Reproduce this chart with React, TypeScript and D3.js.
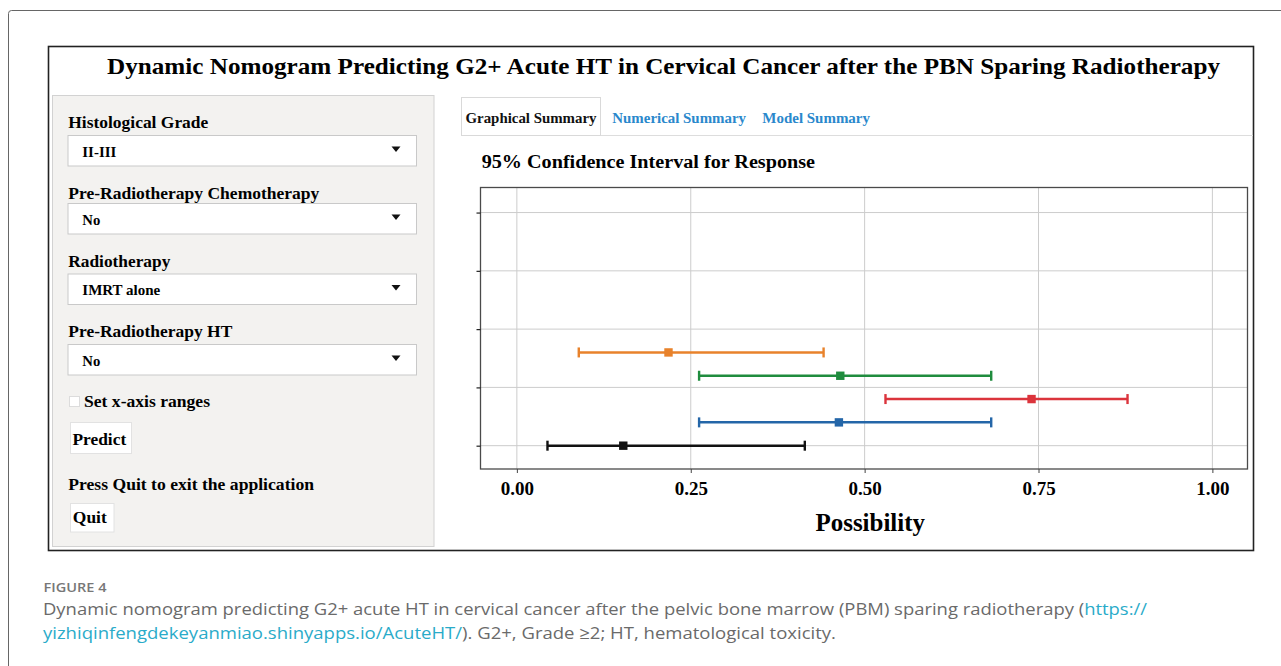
import * as d3 from "d3";
import { useEffect, useRef } from "react";

// ---- data ----
const xTickValues = [0, 0.25, 0.5, 0.75, 1];
const yGridValues = [1, 2, 3, 4, 5];
const rowLevels = [1, 1.4, 1.8, 2.2, 2.6];
const lowerCI = [0.044, 0.262, 0.53, 0.262, 0.089];
const estimates = [0.153, 0.463, 0.74, 0.465, 0.218];
const upperCI = [0.414, 0.682, 0.878, 0.682, 0.441];
const rowColors = ["#111111", "#2466a8", "#db343c", "#1f8c3e", "#e8822b"];

const inputLabels = [
  "Histological Grade",
  "Pre-Radiotherapy Chemotherapy",
  "Radiotherapy",
  "Pre-Radiotherapy HT",
];
const inputValues = ["II-III", "No", "IMRT alone", "No"];
const tabLabels = ["Graphical Summary", "Numerical Summary", "Model Summary"];

// ---- layout ----
const W = 1281;
const H = 666;
const serif = "'Liberation Serif', 'Times New Roman', serif";
const sans = "'Open Sans', 'Noto Sans', sans-serif";
const panel = { left: 480.5, right: 1247.5, top: 187.5, bottom: 469 };
const labelBase = [128, 199, 267, 337];
const labelLen = [140, 251, 102, 164];
const selectTop = [135.5, 203.5, 274, 344.5];
const valueLen = [34, 18, 78, 18];
const tabX = [465.5, 612.3, 762.3];
const tabLen = [131, 133.7, 107.7];

const App = () => {
  const xAxisRef = useRef<SVGGElement>(null);
  const yAxisRef = useRef<SVGGElement>(null);

  const x = d3
    .scaleLinear()
    .domain([-0.0523, 1.0505])
    .range([panel.left, panel.right]);
  const y = d3
    .scaleLinear()
    .domain([0.6, 5.43])
    .range([panel.bottom, panel.top]);

  useEffect(() => {
    d3.select(xAxisRef.current)
      .call(
        d3
          .axisBottom(x)
          .tickValues(xTickValues)
          .tickFormat(d3.format(".2f"))
          .tickSize(4)
          .tickPadding(8.5)
      )
      .call((g) => g.select(".domain").remove())
      .call((g) => g.selectAll(".tick line").attr("stroke", "#444"))
      .call((g) =>
        g
          .selectAll(".tick text")
          .attr("fill", "#000")
          .attr("font-size", 19)
          .attr("font-weight", "bold")
          .attr("font-family", serif)
      );
    d3.select(yAxisRef.current)
      .call(d3.axisLeft(y).tickValues(yGridValues).tickSize(4).tickFormat(() => ""))
      .call((g) => g.select(".domain").remove())
      .call((g) =>
        g.selectAll(".tick line").attr("stroke", "#222").attr("stroke-width", 1.2)
      );
  }, []);

  const rows = rowLevels.map((lv, i) => ({
    lv,
    lo: lowerCI[i],
    est: estimates[i],
    hi: upperCI[i],
    color: rowColors[i],
  }));

  return (
    <div style={{ position: "absolute", left: 0, top: 0 }}>
      <svg width={W} height={H} viewBox={`0 0 ${W} ${H}`} style={{ display: "block" }}>
        <rect width={W} height={H} fill="#fff" />
        {/* outer figure frame */}
        <rect x={8.5} y={10.5} width={1320} height={720} rx={3} fill="none" stroke="#666" strokeWidth={1} />

        {/* app screenshot frame */}
        <rect x={48.5} y={46.5} width={1205} height={504} fill="#fff" stroke="#222" strokeWidth={1.6} />

        <text
          x={107}
          y={74}
          fontFamily={serif}
          fontWeight="bold"
          fontSize={23}
          textLength={1113}
          lengthAdjust="spacingAndGlyphs"
        >
          Dynamic Nomogram Predicting G2+ Acute HT in Cervical Cancer after the PBN Sparing Radiotherapy
        </text>

        {/* sidebar */}
        <rect x={52.5} y={95.5} width={381.5} height={451} fill="#f3f2f0" stroke="#d2d2d2" />
        {inputLabels.map((lab, i) => (
          <g key={lab}>
            <text
              x={68.3}
              y={labelBase[i]}
              fontFamily={serif}
              fontWeight="bold"
              fontSize={17.5}
              textLength={labelLen[i]}
              lengthAdjust="spacingAndGlyphs"
            >
              {lab}
            </text>
            <rect x={68} y={selectTop[i]} width={348.5} height={30.5} fill="#fff" stroke="#c9c9c9" />
            <text
              x={82.3}
              y={selectTop[i] + 21}
              fontFamily={serif}
              fontWeight="bold"
              fontSize={14}
              textLength={valueLen[i]}
              lengthAdjust="spacingAndGlyphs"
            >
              {inputValues[i]}
            </text>
            <path
              d={`M391.5,${selectTop[i] + 11}L400.5,${selectTop[i] + 11}L396,${selectTop[i] + 16.5}Z`}
              fill="#111"
            />
          </g>
        ))}
        <rect x={69.5} y={396.5} width={10} height={10} fill="#fff" stroke="#dcdcdc" />
        <text x={84} y={407.3} fontFamily={serif} fontWeight="bold" fontSize={17.5} textLength={126} lengthAdjust="spacingAndGlyphs">
          Set x-axis ranges
        </text>
        <rect x={70.5} y={422.5} width={61} height={31} fill="#fff" stroke="#e2e2e2" />
        <text x={72.5} y={445} fontFamily={serif} fontWeight="bold" fontSize={17.5} textLength={53.7} lengthAdjust="spacingAndGlyphs">
          Predict
        </text>
        <text x={68.3} y={490} fontFamily={serif} fontWeight="bold" fontSize={17.5} textLength={245.7} lengthAdjust="spacingAndGlyphs">
          Press Quit to exit the application
        </text>
        <rect x={70.5} y={503.5} width={43.5} height={28.5} fill="#fff" stroke="#e2e2e2" />
        <text x={72.8} y={523.3} fontFamily={serif} fontWeight="bold" fontSize={17.5} textLength={34} lengthAdjust="spacingAndGlyphs">
          Quit
        </text>

        {/* tabs */}
        <line x1={461} x2={1253} y1={135.5} y2={135.5} stroke="#dddddd" />
        <rect x={461.5} y={97.5} width={139} height={38} fill="#fff" stroke="#d9d9d9" />
        {tabLabels.map((t, i) => (
          <text
            key={t}
            x={tabX[i]}
            y={122.7}
            fontFamily={serif}
            fontWeight="bold"
            fontSize={14.3}
            fill={i === 0 ? "#111" : "#2a88cc"}
            textLength={tabLen[i]}
            lengthAdjust="spacingAndGlyphs"
          >
            {t}
          </text>
        ))}
        <text x={481.7} y={167.7} fontFamily={serif} fontWeight="bold" fontSize={18.5} textLength={333.3} lengthAdjust="spacingAndGlyphs">
          95% Confidence Interval for Response
        </text>

        {/* plot panel */}
        <rect
          x={panel.left}
          y={panel.top}
          width={panel.right - panel.left}
          height={panel.bottom - panel.top}
          fill="#fff"
        />
        {xTickValues.map((v) => (
          <line key={"gx" + v} x1={x(v)} x2={x(v)} y1={panel.top} y2={panel.bottom} stroke="#cccccc" strokeWidth={1} />
        ))}
        {yGridValues.map((v) => (
          <line key={"gy" + v} x1={panel.left} x2={panel.right} y1={y(v)} y2={y(v)} stroke="#cccccc" strokeWidth={1} />
        ))}
        {rows.map((r, i) => (
          <g key={i} stroke={r.color} fill={r.color}>
            <line x1={x(r.lo)} x2={x(r.hi)} y1={y(r.lv)} y2={y(r.lv)} strokeWidth={2.5} />
            <line x1={x(r.lo)} x2={x(r.lo)} y1={y(r.lv) - 5} y2={y(r.lv) + 5} strokeWidth={2.4} />
            <line x1={x(r.hi)} x2={x(r.hi)} y1={y(r.lv) - 5} y2={y(r.lv) + 5} strokeWidth={2.4} />
            <rect x={x(r.est) - 4.2} y={y(r.lv) - 4.2} width={8.4} height={8.4} stroke="none" />
          </g>
        ))}
        <rect
          x={panel.left}
          y={panel.top}
          width={panel.right - panel.left}
          height={panel.bottom - panel.top}
          fill="none"
          stroke="#4a4a4a"
          strokeWidth={1.3}
        />
        <g ref={xAxisRef} transform={`translate(0,${panel.bottom})`} />
        <g ref={yAxisRef} transform={`translate(${panel.left},0)`} />
        <text
          x={815.5}
          y={530.7}
          fontFamily={serif}
          fontWeight="bold"
          fontSize={25}
          textLength={109.5}
          lengthAdjust="spacingAndGlyphs"
        >
          Possibility
        </text>

        {/* caption */}
        <text x={43.5} y={591.5} fontFamily={sans} fontWeight={600} fontSize={13} fill="#777" textLength={63} lengthAdjust="spacingAndGlyphs">
          FIGURE 4
        </text>
        <text x={43} y={615} fontFamily={sans} fontSize={17} fill="#6a6a6a" textLength={1104} lengthAdjust="spacingAndGlyphs">
          Dynamic nomogram predicting G2+ acute HT in cervical cancer after the pelvic bone marrow (PBM) sparing radiotherapy (
          <tspan fill="#2aabc9">https://</tspan>
        </text>
        <text x={43} y={639} fontFamily={sans} fontSize={17} fill="#6a6a6a" textLength={793} lengthAdjust="spacingAndGlyphs">
          <tspan fill="#2aabc9">yizhiqinfengdekeyanmiao.shinyapps.io/AcuteHT/</tspan>
          ). G2+, Grade ≥2; HT, hematological toxicity.
        </text>
      </svg>
    </div>
  );
};

export default App;
